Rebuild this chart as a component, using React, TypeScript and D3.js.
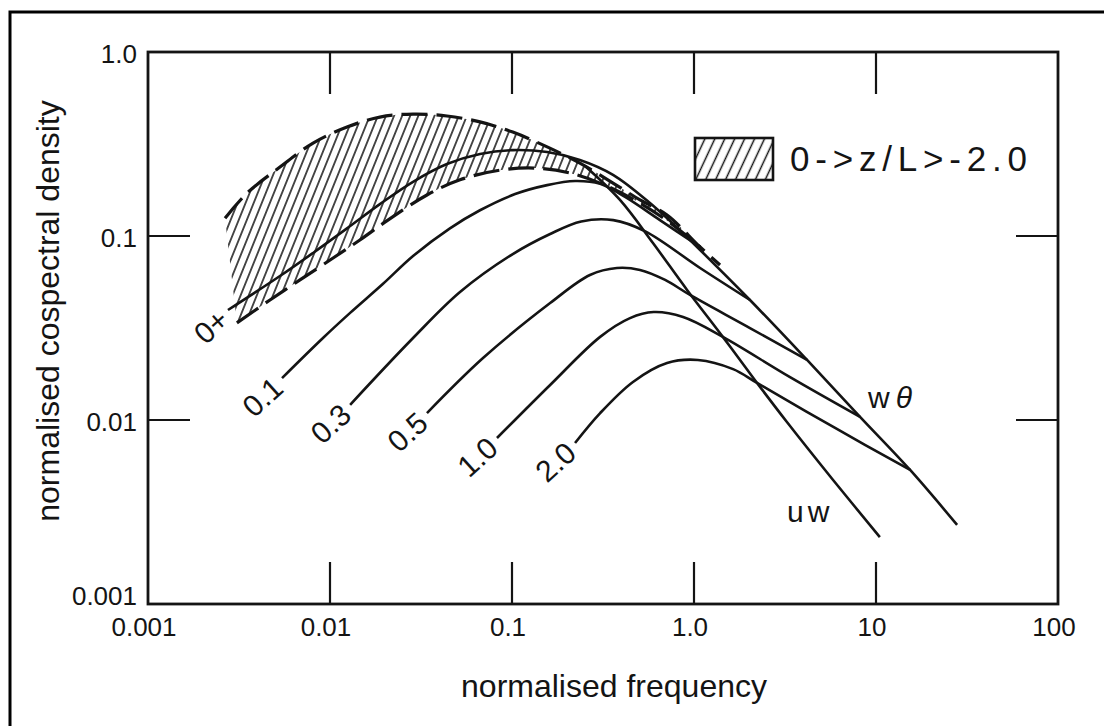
import React from 'react';
import * as d3 from 'd3';

type P = [number, number];

// Axis ticks
const xTickValues = [0.001, 0.01, 0.1, 1, 10, 100];
const xTickLabels = ['0.001', '0.01', '0.1', '1.0', '10', '100'];
const xInnerTicks = [0.01, 0.1, 1, 10];
const yTickValues = [1, 0.1, 0.01, 0.001];
const yTickLabels = ['1.0', '0.1', '0.01', '0.001'];
const yInnerTicks = [0.1, 0.01];

// Shaded range 0 -> z/L > -2.0 (unstable) : dashed envelopes
const bandUpper: P[] = [
  [0.00265, 0.125], [0.0035, 0.171], [0.00531, 0.237], [0.00807, 0.32], [0.0124, 0.391],
  [0.0188, 0.443], [0.0286, 0.46], [0.0439, 0.449], [0.0667, 0.417], [0.101, 0.367],
  [0.156, 0.305], [0.236, 0.249], [0.359, 0.194], [0.505, 0.157], [0.711, 0.13],
  [1.08, 0.0871], [1.39, 0.0696],
];
const bandLower: P[] = [
  [0.00308, 0.0337], [0.00468, 0.0449], [0.00684, 0.0577], [0.0106, 0.0769], [0.0146, 0.0951],
  [0.0208, 0.122], [0.0341, 0.167], [0.0518, 0.202], [0.0859, 0.228], [0.134, 0.234],
  [0.208, 0.22], [0.324, 0.189], [0.505, 0.151], [0.738, 0.118], [1.08, 0.0871],
];

// Stable curves (z/L values)
const curve0plus: P[] = [
  [0.00275, 0.0396], [0.00531, 0.0606], [0.00807, 0.0809], [0.0124, 0.11], [0.0188, 0.149],
  [0.0286, 0.197], [0.0439, 0.246], [0.0667, 0.279], [0.101, 0.293], [0.156, 0.286],
  [0.236, 0.259], [0.359, 0.215], [0.573, 0.151], [0.951, 0.0951],
];
const curve01: P[] = [
  [0.00545, 0.0169], [0.00915, 0.0279], [0.0129, 0.0382], [0.0195, 0.0548], [0.0286, 0.0778],
  [0.0456, 0.11], [0.0667, 0.138], [0.104, 0.169], [0.156, 0.189], [0.222, 0.199],
  [0.305, 0.192], [0.418, 0.163], [0.65, 0.122], [1.08, 0.0871],
];
const curve03: P[] = [
  [0.0129, 0.0121], [0.0286, 0.0279], [0.0518, 0.0496], [0.101, 0.0798], [0.162, 0.1026],
  [0.24, 0.12], [0.36, 0.122], [0.54, 0.106], [1.08, 0.067], [2.03, 0.0449],
];
const curve05: P[] = [
  [0.0341, 0.0109], [0.0693, 0.0217], [0.162, 0.0432], [0.268, 0.0614], [0.377, 0.067],
  [0.505, 0.0654], [0.694, 0.0577], [0.951, 0.0478], [2.03, 0.0316], [4.18, 0.0212],
];
const curve10: P[] = [
  [0.0827, 0.00798], [0.162, 0.0155], [0.305, 0.0283], [0.445, 0.0358], [0.6, 0.0386],
  [0.871, 0.0363], [1.44, 0.0283], [3.37, 0.0171], [8.17, 0.0104],
];
const curve20: P[] = [
  [0.222, 0.0075], [0.305, 0.0109], [0.462, 0.0161], [0.711, 0.0204], [1.05, 0.0212],
  [1.64, 0.0189], [2.22, 0.0159], [5.96, 0.00905], [15.4, 0.00535],
];
const stableCurves = [curve0plus, curve01, curve03, curve05, curve10, curve20];
const stableLabels = ['0+', '0.1', '0.3', '0.5', '1.0', '2.0'];

// High-frequency envelopes
const uwLine: P[] = [
  [0.252, 0.24], [0.392, 0.157], [0.595, 0.0916], [0.916, 0.0509], [1.44, 0.0283],
  [2.22, 0.0159], [3.24, 0.00975], [5.81, 0.00472], [10.5, 0.00231],
];
const wthetaLine: P[] = [
  [0.951, 0.0951], [2.03, 0.0449], [4.18, 0.0212], [8.17, 0.0104], [15.4, 0.00535], [27.9, 0.00269],
];

const legendLabel = '0->z/L>-2.0';
const xTitle = 'normalised frequency';
const yTitle = 'normalised cospectral density';

const FONT = '"Liberation Sans", Arial, Helvetica, sans-serif';
const INK = '#141414';

export default function App() {
  const x = d3.scaleLog().domain([0.001, 100]).range([148, 1058]);
  const y = d3.scaleLog().domain([0.001, 1]).range([604, 52]);
  const line = d3
    .line<P>()
    .x((d) => x(d[0]))
    .y((d) => y(d[1]))
    .curve(d3.curveCatmullRom.alpha(0.5));

  const upperPath = line(bandUpper) || '';
  const lowerPath = line(bandLower) || '';
  const lowerRev = (line([...bandLower].reverse()) || '').replace(/^M/, 'L');
  const bandArea = upperPath + lowerRev + 'Z';

  const [x0, x1] = x.range();
  const [yb, yt] = y.range();
  const tickLen = 42;

  return (
    <svg
      width={1104}
      height={726}
      style={{ position: 'absolute', left: 0, top: 0, background: '#fff' }}
      fontFamily={FONT}
    >
      <defs>
        <pattern id="hatch" width={7.5} height={8} patternUnits="userSpaceOnUse" patternTransform="rotate(22)">
          <line x1={3.75} y1={-1} x2={3.75} y2={9} stroke={INK} strokeWidth={1.5} />
        </pattern>
        <pattern id="hatchLegend" width={9} height={8} patternUnits="userSpaceOnUse" patternTransform="rotate(25)">
          <line x1={4.5} y1={-1} x2={4.5} y2={9} stroke={INK} strokeWidth={1.5} />
        </pattern>
      </defs>
      <rect x={0} y={0} width={1104} height={726} fill="#fff" />
      {/* outer frame */}
      <rect x={10} y={12} width={1300} height={900} fill="none" stroke="#000" strokeWidth={3} />

      {/* plot frame */}
      <rect x={x0} y={yt} width={x1 - x0} height={yb - yt} fill="none" stroke={INK} strokeWidth={2.8} />
      {xInnerTicks.map((v) => (
        <g key={'xt' + v}>
          <line x1={x(v)} x2={x(v)} y1={yb} y2={yb - tickLen} stroke={INK} strokeWidth={2.2} />
          <line x1={x(v)} x2={x(v)} y1={yt} y2={yt + tickLen} stroke={INK} strokeWidth={2.2} />
        </g>
      ))}
      {yInnerTicks.map((v) => (
        <g key={'yt' + v}>
          <line x1={x0} x2={x0 + tickLen} y1={y(v)} y2={y(v)} stroke={INK} strokeWidth={2.2} />
          <line x1={x1} x2={x1 - tickLen} y1={y(v)} y2={y(v)} stroke={INK} strokeWidth={2.2} />
        </g>
      ))}
      {xTickValues.map((v, i) => (
        <text key={'xl' + v} x={x(v) - 4} y={yb + 32} fontSize={26} textAnchor="middle" fill={INK}>
          {xTickLabels[i]}
        </text>
      ))}
      {yTickValues.map((v, i) => (
        <text
          key={'yl' + v}
          x={x0 - 11}
          y={v === 0.001 ? y(v) + 1 : y(v) + 11}
          fontSize={26}
          textAnchor="end"
          fill={INK}
        >
          {yTickLabels[i]}
        </text>
      ))}
      <text x={614} y={697} fontSize={32} textAnchor="middle" fill={INK}>
        {xTitle}
      </text>
      <text transform="translate(59,311) rotate(-90)" fontSize={32} textAnchor="middle" fill={INK}>
        {yTitle}
      </text>

      {/* shaded band */}
      <path d={bandArea} fill="url(#hatch)" stroke="none" />
      <path d={upperPath} fill="none" stroke={INK} strokeWidth={3.2} strokeDasharray="26 9" />
      <path d={lowerPath} fill="none" stroke={INK} strokeWidth={3.2} strokeDasharray="26 9" />

      {/* curves */}
      {stableCurves.map((c, i) => (
        <path key={'c' + i} d={line(c) || ''} fill="none" stroke={INK} strokeWidth={2.6} />
      ))}
      <path d={line(uwLine) || ''} fill="none" stroke={INK} strokeWidth={2.6} />
      <path d={line(wthetaLine) || ''} fill="none" stroke={INK} strokeWidth={2.6} />

      {stableCurves.map((c, i) => {
        const px = x(c[0][0]) - 4;
        const py = y(c[0][1]) + 5;
        return (
          <text
            key={'sl' + i}
            transform={`translate(${px},${py}) rotate(-42)`}
            fontSize={30}
            textAnchor="end"
            dy="0.35em"
            fill={INK}
          >
            {stableLabels[i]}
          </text>
        );
      })}

      <text x={787} y={522} fontSize={30} letterSpacing={4} fill={INK}>
        uw
      </text>
      <text x={868} y={408} fontSize={30} fill={INK}>
        w<tspan dx={6} fontStyle="italic">θ</tspan>
      </text>

      {/* legend */}
      <rect x={695} y={138} width={78} height={42} fill="url(#hatchLegend)" stroke={INK} strokeWidth={2.6} />
      <text x={790} y={171} fontSize={35} fill={INK} textLength={237} lengthAdjust="spacing">
        {legendLabel}
      </text>
    </svg>
  );
}
